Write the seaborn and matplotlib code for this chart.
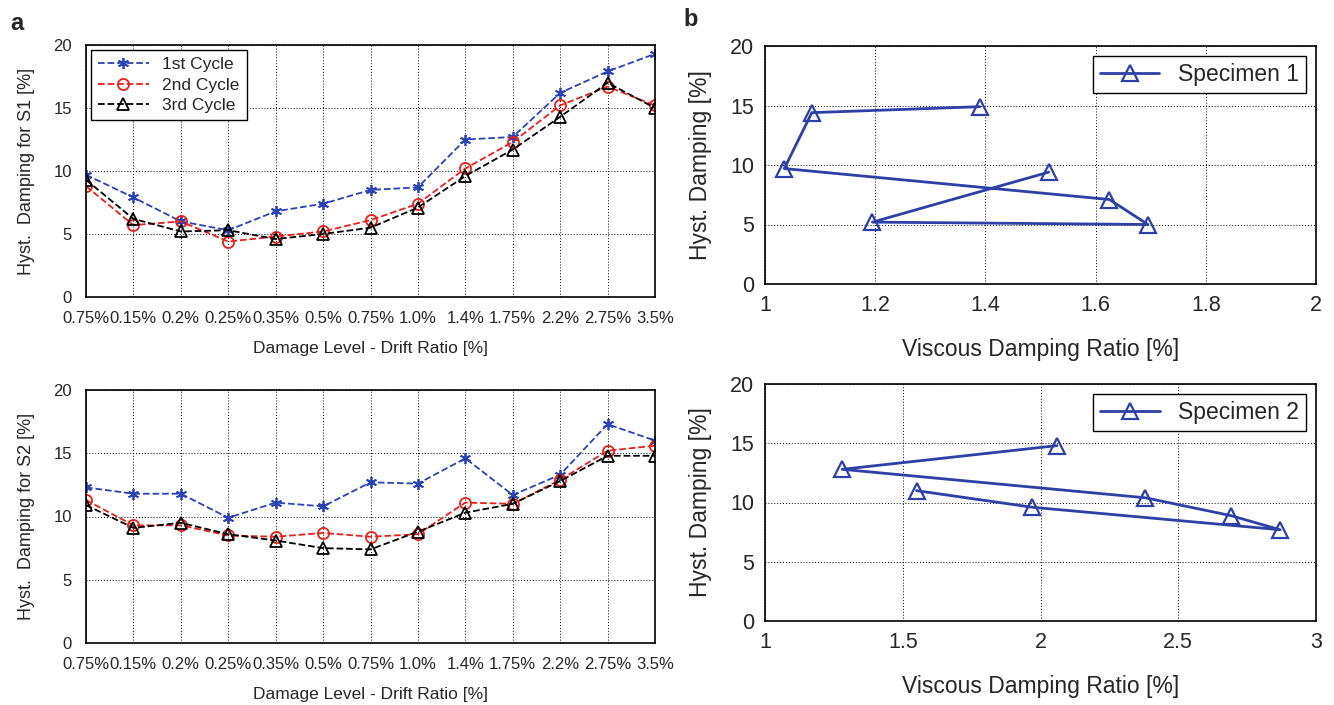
import matplotlib
matplotlib.use('Agg')
import matplotlib.pyplot as plt
import seaborn as sns
import numpy as np
import pandas as pd

drift_labels = ["0.75%", "0.15%", "0.2%", "0.25%", "0.35%", "0.5%", "0.75%",
                "1.0%", "1.4%", "1.75%", "2.2%", "2.75%", "3.5%"]

s1_cycle1 = [9.7, 7.9, 6.0, 5.3, 6.8, 7.4, 8.5, 8.7, 12.5, 12.7, 16.2, 17.9, 19.3]
s1_cycle2 = [8.8, 5.7, 6.0, 4.4, 4.8, 5.2, 6.1, 7.4, 10.2, 12.3, 15.2, 16.7, 15.2]
s1_cycle3 = [9.3, 6.2, 5.2, 5.3, 4.6, 5.0, 5.5, 7.1, 9.6, 11.7, 14.3, 17.0, 15.0]

s2_cycle1 = [12.3, 11.8, 11.8, 9.9, 11.1, 10.8, 12.7, 12.6, 14.6, 11.7, 13.3, 17.3, 16.0]
s2_cycle2 = [11.3, 9.3, 9.3, 8.5, 8.4, 8.7, 8.4, 8.6, 11.1, 11.0, 12.9, 15.2, 15.6]
s2_cycle3 = [10.9, 9.1, 9.5, 8.6, 8.1, 7.5, 7.4, 8.8, 10.3, 11.0, 12.8, 14.8, 14.8]

spec1_visc = [1.515, 1.195, 1.695, 1.625, 1.035, 1.085, 1.39]
spec1_hyst = [9.4, 5.2, 5.0, 7.1, 9.7, 14.4, 14.9]
spec2_visc = [1.55, 1.97, 2.87, 2.69, 2.38, 1.28, 2.06]
spec2_hyst = [11.0, 9.6, 7.7, 8.9, 10.4, 12.8, 14.8]

sns.set_style("white")
plt.rcParams['font.family'] = ['Liberation Sans', 'DejaVu Sans']

fig = plt.figure(figsize=(13.34, 7.05), dpi=100)
W, H = 1334, 705

def add_ax(x0, y0, x1, y1):
    return fig.add_axes([x0 / W, 1 - y1 / H, (x1 - x0) / W, (y1 - y0) / H])

grid_kw = dict(color="black", linestyle=(0, (1, 2)), linewidth=0.7)

# name, colour, marker, face, size
cycle_styles = [
    ("1st Cycle", "#2b43b4", (6, 2, 0), "#2b43b4", 8),
    ("2nd Cycle", "#e8201c", "o", "none", 8),
    ("3rd Cycle", "black", "^", "none", 9),
]

def cycle_panel(ax, series, ylabel, legend):
    xpos = np.arange(len(drift_labels))
    for (name, col, mk, fc, ms), vals in zip(cycle_styles, series):
        df = pd.DataFrame({"x": xpos, "y": vals})
        sns.lineplot(data=df, x="x", y="y", ax=ax, color=col, linestyle="--",
                     linewidth=1.3, marker=mk, markersize=ms,
                     markerfacecolor=fc, markeredgecolor=col, markeredgewidth=1.3,
                     label=name if legend else None, legend=False)
    ax.set_xlim(0, len(drift_labels) - 1)
    ax.set_ylim(0, 20)
    ax.set_yticks([0, 5, 10, 15, 20])
    ax.set_xticks(xpos)
    ax.set_xticklabels(drift_labels, fontsize=12)
    ax.tick_params(axis="y", labelsize=12)
    ax.tick_params(axis="both", length=0, pad=10)
    ax.grid(True, **grid_kw)
    ax.set_ylabel(ylabel, fontsize=13, labelpad=13)
    ax.set_xlabel("Damage Level - Drift Ratio [%]", fontsize=12.5, labelpad=11)
    for s in ax.spines.values():
        s.set_color("black")
        s.set_linewidth(1.2)
    if legend:
        leg = ax.legend(loc="upper left", fontsize=12.5, fancybox=False,
                        edgecolor="black", framealpha=1, handlelength=2.9,
                        borderaxespad=0.3, labelspacing=0.3)
        leg.get_frame().set_linewidth(1.0)

def spec_panel(ax, xs, ys, name, xlim, xticks, xticklabels):
    df = pd.DataFrame({"visc": xs, "hyst": ys})
    sns.lineplot(data=df, x="visc", y="hyst", sort=False, ax=ax, color="#2e40a6",
                 linewidth=2, marker="^", markersize=11, markerfacecolor="none",
                 markeredgecolor="#2e40a6", markeredgewidth=1.6, label=name)
    ax.set_xlim(*xlim)
    ax.set_ylim(0, 20)
    ax.set_xticks(xticks)
    ax.set_xticklabels(xticklabels)
    ax.set_yticks([0, 5, 10, 15, 20])
    ax.tick_params(axis="both", labelsize=15.5, length=0, pad=8)
    ax.grid(True, **grid_kw)
    ax.set_xlabel("Viscous Damping Ratio [%]", fontsize=16.5, labelpad=16)
    ax.set_ylabel("Hyst. Damping [%]", fontsize=16.5, labelpad=13)
    for s in ax.spines.values():
        s.set_color("black")
        s.set_linewidth(1.2)
    leg = ax.legend(loc="upper right", fontsize=16.5, fancybox=False,
                    edgecolor="black", framealpha=1, handlelength=2.6,
                    borderaxespad=0.45, borderpad=0.3)
    leg.get_frame().set_linewidth(1.0)

ax1 = add_ax(86, 45, 655, 297)
cycle_panel(ax1, [s1_cycle1, s1_cycle2, s1_cycle3], "Hyst.  Damping for S1 [%]", True)
ax2 = add_ax(86, 390, 655, 643)
cycle_panel(ax2, [s2_cycle1, s2_cycle2, s2_cycle3], "Hyst.  Damping for S2 [%]", False)

ax3 = add_ax(765, 46, 1316, 284)
spec_panel(ax3, spec1_visc, spec1_hyst, "Specimen 1", (1, 2),
           [1, 1.2, 1.4, 1.6, 1.8, 2], ["1", "1.2", "1.4", "1.6", "1.8", "2"])
ax4 = add_ax(765, 384, 1316, 621)
spec_panel(ax4, spec2_visc, spec2_hyst, "Specimen 2", (1, 3),
           [1, 1.5, 2, 2.5, 3], ["1", "1.5", "2", "2.5", "3"])

fig.text(10 / W, 1 - 23 / H, "a", fontsize=17, fontweight="bold", va="center")
fig.text(683 / W, 1 - 19 / H, "b", fontsize=17, fontweight="bold", va="center")

fig.savefig("out.png", dpi=100)
